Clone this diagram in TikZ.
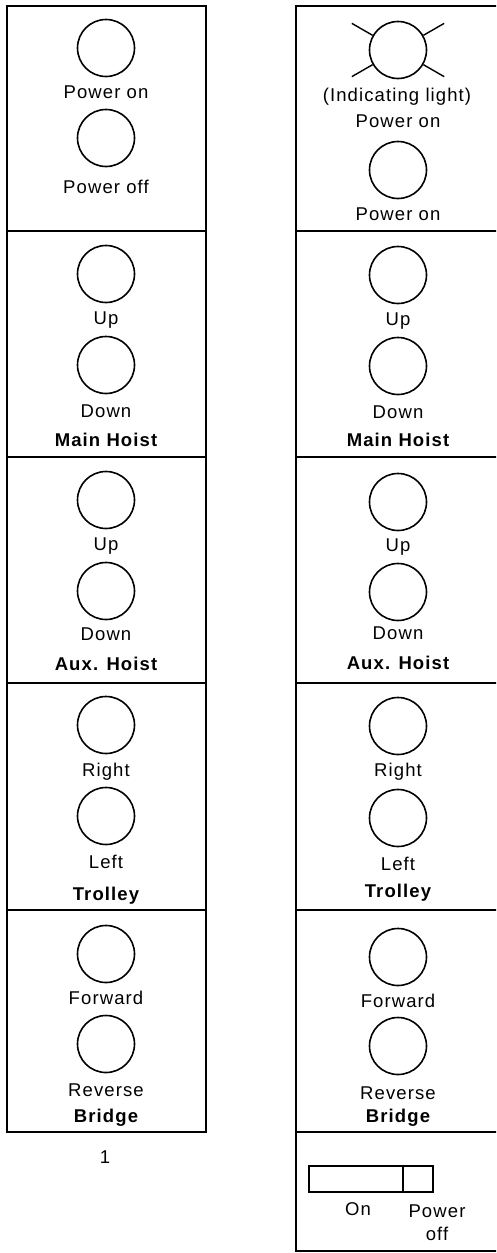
\documentclass[tikz,border=0pt]{standalone}
\usepackage{fontspec}
\setmainfont{Liberation Sans}[LetterSpace=6.0]
\newcommand\panelfont{\fontsize{18.5}{20}\selectfont}
\begin{document}
\begin{tikzpicture}[x=1pt,y=-1pt,
  frame/.style={line width=2.6pt, line join=miter},
  btn/.style={circle, draw, line width=1.6pt, minimum size=57pt, inner sep=0pt},
  lbl/.style={anchor=base, font=\panelfont, inner sep=0pt},
  ttl/.style={anchor=base, font=\panelfont\bfseries, inner sep=0pt},
  ray/.style={line width=1.4pt},
  sw/.style={draw, line width=1.4pt, inner sep=0pt, minimum height=26pt}]
\useasboundingbox (0,0) rectangle (496,1253);
\clip (0,0) rectangle (496,1253);
% ---------- left panel ----------
\draw[frame] (7,6) rectangle (206,1132);
\foreach \yy in {231,457,683,910} \draw[frame] (7,\yy) -- (206,\yy);
\node[btn] (L1a) at (106,48) {};
\node[lbl] (L1at) at (106,98.3) {Power on};
\node[btn] (L1b) at (106,138) {};
\node[lbl] (L1bt) at (106,193) {Power off};
\node[btn] (L2a) at (106,274) {};
\node[lbl] (L2at) at (106,324.7) {Up};
\node[btn] (L2b) at (106,365) {};
\node[lbl] (L2bt) at (106,417.3) {Down};
\node[ttl] (L2t) at (106,446.7) {Main Hoist};
\node[btn] (L3a) at (106,500) {};
\node[lbl] (L3at) at (106,550.7) {Up};
\node[btn] (L3b) at (106,591) {};
\node[lbl] (L3bt) at (106,640.7) {Down};
\node[ttl] (L3t) at (106,670) {Aux. Hoist};
\node[btn] (L4a) at (106,725) {};
\node[lbl] (L4at) at (106,776.7) {Right};
\node[btn] (L4b) at (106,816) {};
\node[lbl] (L4bt) at (106,868.3) {Left};
\node[ttl] (L4t) at (106,900) {Trolley};
\node[btn] (L5a) at (106,954) {};
\node[lbl] (L5at) at (106,1004.3) {Forward};
\node[btn] (L5b) at (106,1044) {};
\node[lbl] (L5bt) at (106,1096.7) {Reverse};
\node[ttl] (L5t) at (106,1122.3) {Bridge};
\node[lbl] (num) at (105,1163.3) {1};
% ---------- right panel ----------
\draw[frame] (296,6) rectangle (501,1251);
\foreach \yy in {231,457,683,910,1132} \draw[frame] (296,\yy) -- (501,\yy);
\node[btn] (light) at (398,50) {};
\foreach \a in {30,150,210,330} \draw[ray] (light.\a) -- ++(\a:24pt);
\node[lbl] (R1at) at (397,101.7) {(Indicating light)};
\node[lbl] (R1at2) at (398,127.7) {Power on};
\node[btn] (R1b) at (398,170) {};
\node[lbl] (R1bt) at (398,220) {Power on};
\node[btn] (R2a) at (398,275) {};
\node[lbl] (R2at) at (398,325.5) {Up};
\node[btn] (R2b) at (398,366) {};
\node[lbl] (R2bt) at (398,418.3) {Down};
\node[ttl] (R2t) at (398,446) {Main Hoist};
\node[btn] (R3a) at (398,502) {};
\node[lbl] (R3at) at (398,551.7) {Up};
\node[btn] (R3b) at (398,592) {};
\node[lbl] (R3bt) at (398,639.3) {Down};
\node[ttl] (R3t) at (398,669.3) {Aux. Hoist};
\node[btn] (R4a) at (398,726) {};
\node[lbl] (R4at) at (398,776.7) {Right};
\node[btn] (R4b) at (398,818) {};
\node[lbl] (R4bt) at (398,870.7) {Left};
\node[ttl] (R4t) at (398,897.3) {Trolley};
\node[btn] (R5a) at (398,957) {};
\node[lbl] (R5at) at (398,1007.3) {Forward};
\node[btn] (R5b) at (398,1046) {};
\node[lbl] (R5bt) at (398,1099) {Reverse};
\node[ttl] (R5t) at (398,1122.3) {Bridge};
% switch
\node[sw, minimum width=94pt] (swon) at (356,1179) {};
\node[sw, minimum width=30pt] (swoff) at (418,1179) {};
\node[lbl] (ont) at (358,1215) {On};
\node[lbl] (pot) at (437,1217.7) {Power};
\node[lbl] (offt) at (437,1240) {off};
\end{tikzpicture}
\end{document}
